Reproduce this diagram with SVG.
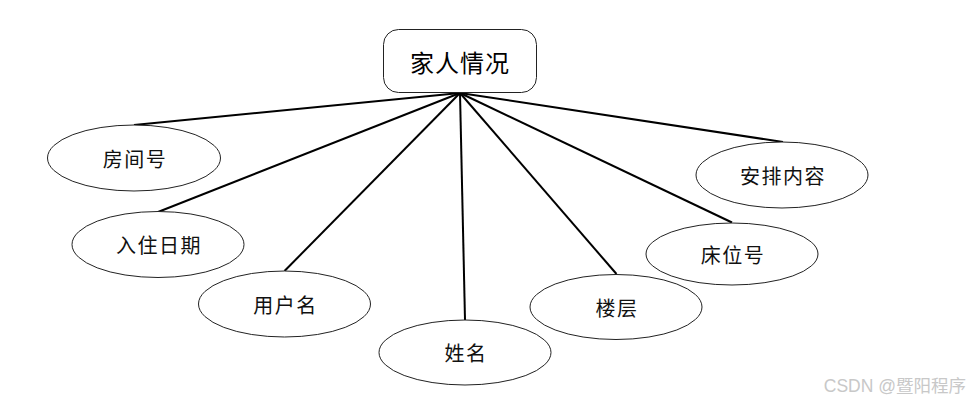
<svg xmlns="http://www.w3.org/2000/svg" width="971" height="403" viewBox="0 0 971 403">
<style>
.attr ellipse{fill:#fff;stroke:#222;stroke-width:1}
.attr text{font-family:"Noto Sans CJK SC","Liberation Sans",sans-serif;font-size:20px;letter-spacing:1.5px;fill:#111;text-anchor:middle;dominant-baseline:central}
#conn line{stroke:#000;stroke-width:2}
</style>
<rect width="971" height="403" fill="#fff"/>
<g id="conn">
<line x1="460" y1="93" x2="134" y2="125"/>
<line x1="460" y1="93" x2="158" y2="212"/>
<line x1="460" y1="93" x2="284.5" y2="271"/>
<line x1="460" y1="93" x2="465" y2="320"/>
<line x1="460" y1="93" x2="616.5" y2="274"/>
<line x1="460" y1="93" x2="732" y2="222.5"/>
<line x1="460" y1="93" x2="783" y2="142"/>
</g>
<g id="root">
<rect x="383.5" y="29.5" width="153" height="63" rx="15" fill="#fff" stroke="#222" stroke-width="1"/>
<text x="460" y="61" font-family="Noto Sans CJK SC,Liberation Sans,sans-serif" font-size="24" text-anchor="middle" dominant-baseline="central" fill="#000" letter-spacing="1">家人情况</text>
</g>
<g id="n1" class="attr"><ellipse cx="134" cy="158" rx="86.5" ry="33"/><text x="135" y="158">房间号</text></g>
<g id="n2" class="attr"><ellipse cx="158" cy="244.5" rx="86" ry="33"/><text x="159" y="244.5">入住日期</text></g>
<g id="n3" class="attr"><ellipse cx="284.5" cy="304" rx="86" ry="33"/><text x="285.5" y="304">用户名</text></g>
<g id="n4" class="attr"><ellipse cx="465" cy="352.5" rx="86" ry="32.5"/><text x="466" y="352.5">姓名</text></g>
<g id="n5" class="attr"><ellipse cx="616" cy="307" rx="86" ry="32.5"/><text x="617" y="307">楼层</text></g>
<g id="n6" class="attr"><ellipse cx="732" cy="254" rx="86" ry="31"/><text x="733" y="254">床位号</text></g>
<g id="n7" class="attr"><ellipse cx="782" cy="175" rx="86" ry="33"/><text x="783" y="175">安排内容</text></g>
<text x="966" y="392" text-anchor="end" font-family="Liberation Sans,Noto Sans CJK SC,sans-serif" font-size="17.5" fill="#c8c8c8">CSDN @暨阳程序</text>
</svg>
